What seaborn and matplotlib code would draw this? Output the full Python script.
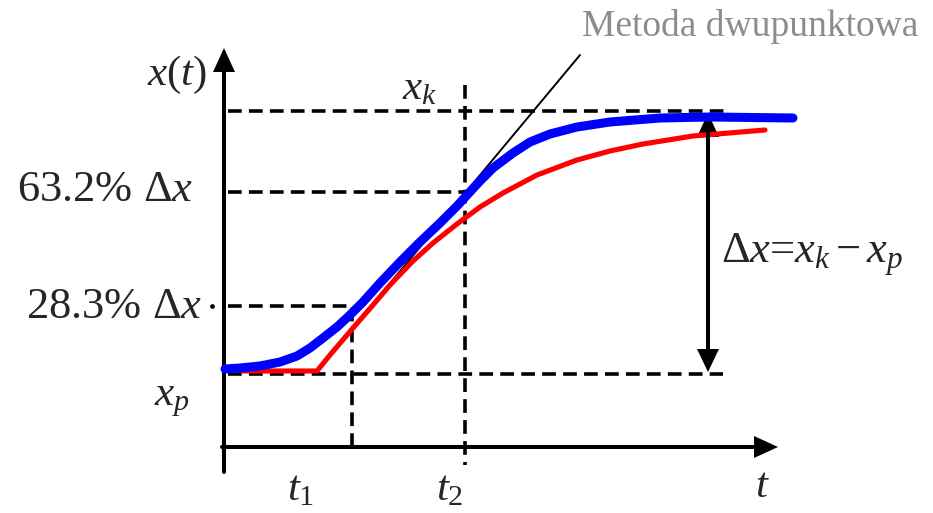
import matplotlib
matplotlib.use("Agg")
import matplotlib.pyplot as plt
import seaborn as sns

# Step response curves (t, x); origin at the crossing of the axes
blue_t = [1, 16, 36, 56, 73, 86, 99, 113, 126, 139, 156, 176, 196, 216, 233, 244,
          256, 269, 289, 306, 326, 353, 386, 436, 486, 569]
blue_x = [78, 79, 81, 85, 91, 99, 109, 120, 132, 145, 164, 185, 205, 224, 241, 253,
          266, 279, 294, 305, 313, 320, 325, 329, 330, 329]

red_t = [19, 93, 106, 129, 149, 166, 189, 209, 233, 256, 279, 313, 353, 386, 419, 469, 541]
red_x = [76, 76, 92, 119, 142, 162, 186, 204, 223, 240, 254, 272, 287, 296, 303, 311, 317]

# Two-point tangent line
tangent_t = [92, 356]
tangent_x = [75, 392]

# Characteristic levels and times
x_p = 73
x_k = 336
lvl_632 = 255
lvl_283 = 141
t_1 = 127
t_2 = 241
dx_arrow_t = 484

sns.set_theme(style="white")
plt.rcParams["font.family"] = ["Liberation Serif", "DejaVu Serif"]
plt.rcParams["mathtext.fontset"] = "custom"
plt.rcParams["mathtext.rm"] = "Liberation Serif"
plt.rcParams["mathtext.it"] = "Liberation Serif:italic"
plt.rcParams["mathtext.bf"] = "Liberation Serif:bold"

fig = plt.figure(figsize=(9.33, 5.13), dpi=100)
ax = fig.add_axes([0, 0, 1, 1])
ax.set_xlim(-224, 709)
ax.set_ylim(-66, 447)
ax.axis("off")

dash = dict(color="black", lw=2.6, linestyle=(0, (3.8, 2.0)))

# Guide lines
ax.plot([4, 503], [x_k, x_k], **dash)
ax.plot([4, 499], [x_p, x_p], **dash)
ax.plot([4, t_2 + 3], [lvl_632, lvl_632], **dash)
ax.plot([4, t_1 + 1, t_1 + 1], [lvl_283, lvl_283, -5], **dash)
ax.plot([t_2, t_2], [362, -18], **dash)
ax.plot([-12], [lvl_283], marker="o", ms=2.4, color="black")

# Axes with arrowheads
ax.plot([0, 0], [-25, 380], color="black", lw=2.9, solid_capstyle="round")
ax.arrow(0, 370, 0, 29, width=0.1, head_width=22, head_length=24,
         length_includes_head=True, color="black", lw=0)
ax.plot([-2, 535], [0, 0], color="black", lw=2.9, solid_capstyle="round")
ax.arrow(525, 0, 29, 0, width=0.1, head_width=22, head_length=24,
         length_includes_head=True, color="black", lw=0)

# Curves
sns.lineplot(x=tangent_t, y=tangent_x, ax=ax, color="black", lw=1.4, sort=False,
             estimator=None)
sns.lineplot(x=red_t, y=red_x, ax=ax, color="#ff0000", lw=3.7, sort=False,
             estimator=None, solid_capstyle="round", solid_joinstyle="round")
sns.lineplot(x=blue_t, y=blue_x, ax=ax, color="#0000ff", lw=6.5, sort=False,
             estimator=None, solid_capstyle="round", solid_joinstyle="round")

# Double arrow for the amplitude of the step
ax.plot([dx_arrow_t, dx_arrow_t], [x_p + 20, x_k - 20], color="black", lw=2.9)
ax.arrow(dx_arrow_t, x_k - 30, 0, 30 - 2, width=0.1, head_width=22, head_length=24,
         length_includes_head=True, color="black", lw=0)
ax.arrow(dx_arrow_t, x_p + 30, 0, -30 + 2, width=0.1, head_width=22, head_length=23,
         length_includes_head=True, color="black", lw=0)

fs = 32
fm = 31
ax.text(-17, 372, r"$x(t)$", fontsize=fm, ha="right", va="center")
ax.text(196, 358, r"$x_k$", fontsize=fm, ha="center", va="center")
ax.text(-31, 257, r"63.2% Δ$x$", fontsize=fs, ha="right", va="center")
ax.text(-22, 140, r"28.3% Δ$x$", fontsize=fs, ha="right", va="center")
ax.text(-52, 47, r"$x_p$", fontsize=fm, ha="center", va="center")
ax.text(77, -43, r"$t_1$", fontsize=fm, ha="center", va="center")
ax.text(226, -43, r"$t_2$", fontsize=fm, ha="center", va="center")
ax.text(538, -40, r"$t$", fontsize=fm, ha="center", va="center")
ax.text(497, 192, r"Δ$x$=$x_k-x_p$", fontsize=32, ha="left", va="center")
ax.text(694, 421, "Metoda dwupunktowa", fontsize=27, color="#8c8c8c",
        ha="right", va="center")

fig.savefig("out.png", dpi=100)
